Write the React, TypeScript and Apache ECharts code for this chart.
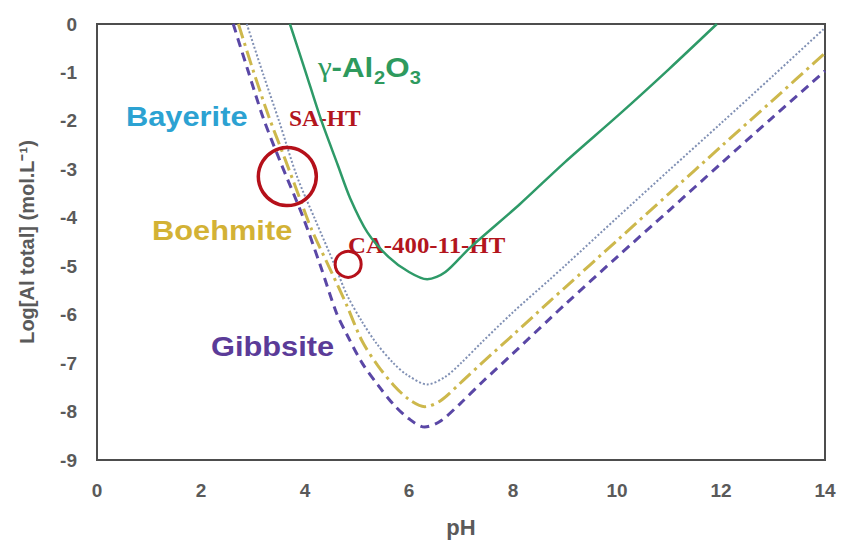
import React, { useEffect, useRef } from "react";
import * as echarts from "echarts";

// Solubility curves: pH vs log of total dissolved aluminium
const gammaPH = [3.71, 4.0, 4.3, 4.63, 4.87, 5.2, 5.6, 6.0, 6.35, 6.7, 7.17, 8.13, 9.0, 10.06, 11.0, 11.92];
const gammaLog = [0, -0.95, -1.95, -2.91, -3.6, -4.3, -4.8, -5.12, -5.27, -5.12, -4.62, -3.72, -2.85, -1.85, -0.93, 0];

const bayeritePH = [2.88, 3.2, 3.5, 3.84, 4.2, 4.58, 4.81, 5.1, 5.38, 5.7, 5.96, 6.35, 6.7, 7.0, 7.4, 8.0, 8.71, 9.0, 10.0, 11.0, 12.0, 13.0, 14.0];
const bayeriteLog = [0, -1.05, -2.0, -3.13, -4.05, -5.0, -5.6, -6.15, -6.6, -7.0, -7.24, -7.44, -7.28, -7.0, -6.57, -5.95, -5.27, -4.99, -4.0, -3.02, -2.05, -1.07, -0.08];

const boehmitePH = [2.72, 3.0, 3.3, 3.62, 3.9, 4.13, 4.5, 4.8, 5.1, 5.4, 5.7, 6.0, 6.3, 6.6, 7.0, 7.4, 8.0, 8.71, 9.0, 10.0, 11.0, 12.0, 13.0, 14.0];
const boehmiteLog = [0, -0.95, -1.9, -2.8, -3.6, -4.25, -5.1, -5.8, -6.55, -7.05, -7.45, -7.75, -7.9, -7.78, -7.4, -7.0, -6.42, -5.72, -5.44, -4.47, -3.5, -2.53, -1.57, -0.6];

const gibbsitePH = [2.62, 2.9, 3.2, 3.52, 3.96, 4.3, 4.6, 4.8, 5.1, 5.4, 5.7, 6.0, 6.3, 6.6, 7.0, 7.4, 8.0, 8.71, 9.0, 10.0, 11.0, 12.0, 13.0, 14.0];
const gibbsiteLog = [0, -0.95, -1.95, -2.83, -3.98, -5.0, -5.95, -6.4, -7.0, -7.45, -7.85, -8.15, -8.32, -8.2, -7.82, -7.4, -6.8, -6.08, -5.79, -4.81, -3.85, -2.88, -1.92, -0.97];

// Measured samples, drawn as open circles
const sampleNames = ["SA-HT", "CA-400-11-HT"];
const samplePH = [3.66, 4.83];
const sampleLog = [-3.15, -4.96];

const xTicks = [0, 2, 4, 6, 8, 10, 12, 14];
const yTicks = [0, -1, -2, -3, -4, -5, -6, -7, -8, -9];

const zip = (xs: number[], ys: number[]) => xs.map((x, i) => [x, ys[i]]);

const SANS = "Liberation Sans, Arial, sans-serif";
const SERIF = "Liberation Serif, Times New Roman, serif";
const AXIS_GRAY = "#5a5a5a";
const GREEN = "#2e9a5e";
const RED = "#b3151d";

const phaseLabel = (text: string, x: number, y: number, fill: string) => ({
  type: "text",
  x,
  y,
  scaleX: 1.1,
  style: { text, fontFamily: SANS, fontWeight: "bold", fontSize: 28, fill, verticalAlign: "middle" },
});

const sampleLabel = (text: string, x: number, y: number, sx: number) => ({
  type: "text",
  x,
  y,
  scaleX: sx,
  style: { text, fontFamily: SERIF, fontWeight: "bold", fontSize: 23, fill: RED, verticalAlign: "middle" },
});

export default function App() {
  const ref = useRef<HTMLDivElement>(null);

  useEffect(() => {
    if (!ref.current) return;
    const chart = echarts.init(ref.current, undefined, { renderer: "svg" });

    const curve = (name: string, xs: number[], ys: number[], color: string, width: number, type: any) => ({
      name,
      type: "line",
      data: zip(xs, ys),
      showSymbol: false,
      smooth: 0.3,
      lineStyle: { color, width, type, cap: "butt" },
      z: 3,
    });

    const big = { fontFamily: SANS, fontWeight: "bold", fontSize: 28, fill: GREEN, verticalAlign: "bottom" };
    const sub = { fontFamily: SANS, fontWeight: "bold", fontSize: 18, fill: GREEN, verticalAlign: "bottom" };

    chart.setOption({
      animation: false,
      backgroundColor: "#ffffff",
      grid: {
        left: 97,
        top: 24,
        right: 16,
        bottom: 76,
        show: true,
        borderColor: "#4d4d4d",
        borderWidth: 2,
        backgroundColor: "#ffffff",
      },
      xAxis: {
        type: "value",
        min: xTicks[0],
        max: xTicks[xTicks.length - 1],
        interval: 2,
        name: "pH",
        nameLocation: "middle",
        nameGap: 56,
        nameTextStyle: { fontFamily: SANS, fontWeight: "bold", fontSize: 22, color: AXIS_GRAY },
        axisLine: { show: false },
        axisTick: { show: false },
        splitLine: { show: false },
        axisLabel: {
          fontFamily: SANS,
          fontWeight: "bold",
          fontSize: 19,
          color: AXIS_GRAY,
          margin: 21,
          formatter: (v: number) => (xTicks.includes(v) ? String(v) : ""),
        },
      },
      yAxis: {
        type: "value",
        min: yTicks[yTicks.length - 1],
        max: yTicks[0],
        interval: 1,
        name: "Log[Al total] (mol.L⁻¹)",
        nameLocation: "middle",
        nameGap: 60,
        nameRotate: 90,
        nameTextStyle: { fontFamily: SANS, fontWeight: "bold", fontSize: 20, color: AXIS_GRAY },
        axisLine: { show: false },
        axisTick: { show: false },
        splitLine: { show: false },
        axisLabel: {
          fontFamily: SANS,
          fontWeight: "bold",
          fontSize: 19,
          color: AXIS_GRAY,
          margin: 20,
        },
      },
      series: [
        curve("γ-Al2O3", gammaPH, gammaLog, "#2e9a68", 2.5, "solid"),
        curve("Bayerite", bayeritePH, bayeriteLog, "#8090b4", 2, [2, 2]),
        curve("Boehmite", boehmitePH, boehmiteLog, "#cdb84c", 3, [15, 5, 3, 5]),
        curve("Gibbsite", gibbsitePH, gibbsiteLog, "#5a47a6", 3, [9, 6]),
        {
          name: "samples",
          type: "scatter",
          data: zip(samplePH, sampleLog).map((p, i) => ({
            value: p,
            name: sampleNames[i],
            symbolSize: i === 0 ? 58 : 26,
            itemStyle: { borderWidth: i === 0 ? 3.5 : 3 },
          })),
          symbol: "circle",
          itemStyle: { color: "rgba(0,0,0,0)", borderColor: "#b5101a", opacity: 1 },
          z: 5,
        },
      ],
      graphic: [
        phaseLabel("Bayerite", 126, 116, "#2ca2d2"),
        phaseLabel("Boehmite", 152, 230, "#d3b235"),
        phaseLabel("Gibbsite", 211, 346, "#5b3b98"),
        {
          type: "group",
          x: 318,
          y: 0,
          scaleX: 1.12,
          children: [
            { type: "text", x: 0, y: 81, style: { text: "γ", fontFamily: SERIF, fontSize: 28, fill: GREEN, verticalAlign: "bottom" } },
            { type: "text", x: 12, y: 81, style: { text: "-Al", ...big } },
            { type: "text", x: 50, y: 87, style: { text: "2", ...sub } },
            { type: "text", x: 60, y: 81, style: { text: "O", ...big } },
            { type: "text", x: 82, y: 87, style: { text: "3", ...sub } },
          ],
        },
        sampleLabel(sampleNames[0], 289, 118, 1.02),
        sampleLabel(sampleNames[1], 348, 245, 1.08),
      ],
    });

    return () => chart.dispose();
  }, []);

  return <div ref={ref} style={{ width: 841, height: 543, position: "absolute", left: 0, top: 0 }} />;
}
